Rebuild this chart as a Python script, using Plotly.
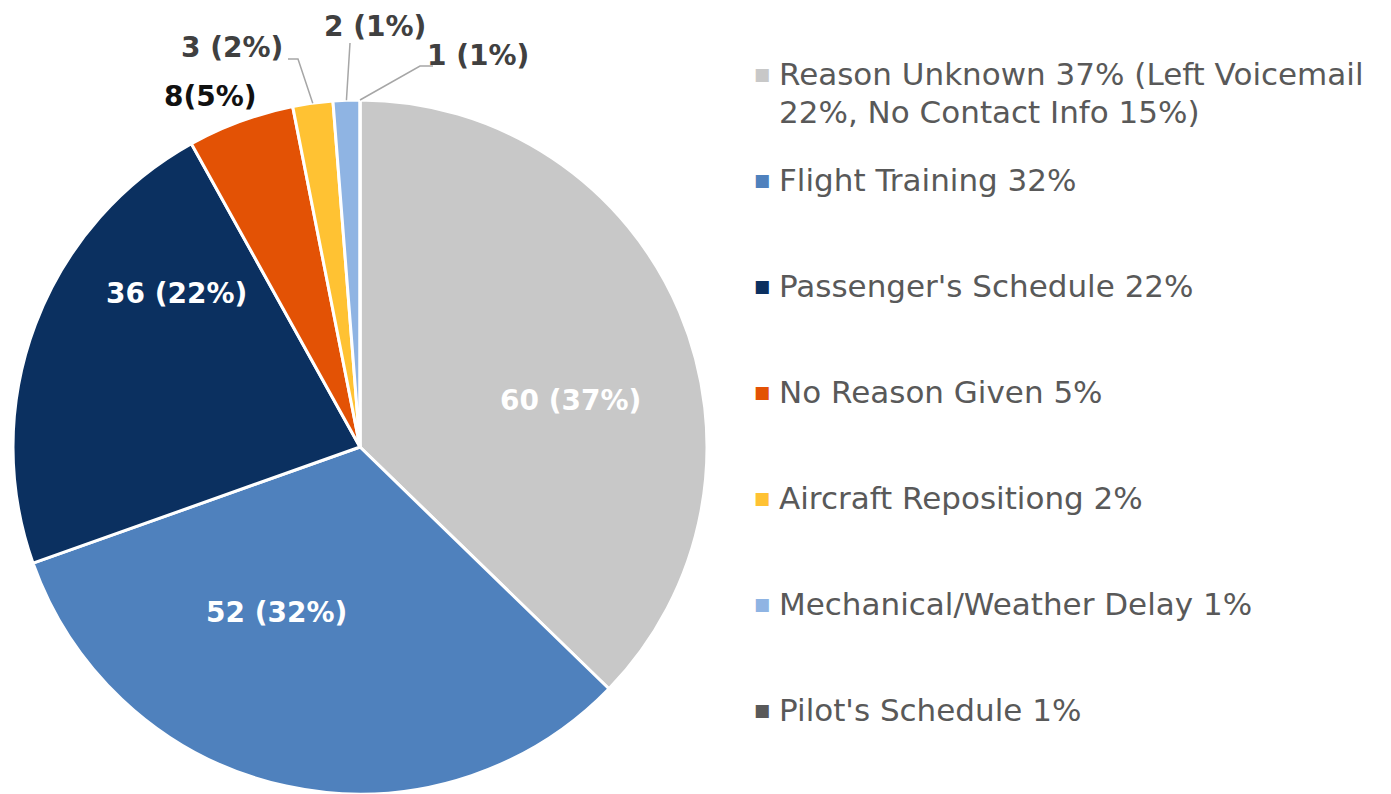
import math
import plotly.graph_objects as go

PAGE_W, PAGE_H = 1391, 794
OFF = 8  # default body margin of the html page
W, H = PAGE_W - OFF, PAGE_H - OFF

categories = [
    "Reason Unknown 37% (Left Voicemail<br>22%, No Contact Info 15%)",
    "Flight Training 32%",
    "Passenger's Schedule 22%",
    "No Reason Given 5%",
    "Aircraft Repositiong 2%",
    "Mechanical/Weather Delay 1%",
    "Pilot's Schedule 1%",
]
slice_values = [60, 52, 36, 8, 3, 2, 0]
label_text = ["60 (37%)", "52 (32%)", "36 (22%)", "8(5%)", "3 (2%)", "2 (1%)", "1 (1%)"]
colors = ["#C8C8C8", "#4F81BD", "#0B3060", "#E35205", "#FFC233", "#8FB4E3", "#595959"]

FONT = "DejaVu Sans"

# pie geometry (page pixels)
cx, cy, R = 360, 447, 347


def px(x, y):
    """page pixel -> paper coords"""
    return (x - OFF) / W, 1 - (y - OFF) / H


fig = go.Figure(go.Pie(
    labels=[c.replace("<br>", " ") for c in categories],
    values=slice_values,
    sort=False,
    direction="clockwise",
    rotation=0,
    marker=dict(colors=colors, line=dict(color="white", width=3)),
    textinfo="none",
    hoverinfo="label+value",
    domain=dict(x=[(cx - OFF - R) / W, (cx - OFF + R) / W],
                y=[0, (H - (cy - OFF - R)) / H]),
    showlegend=False,
))

total = sum(slice_values)


def edge_point(i):
    cum = sum(slice_values[:i]) + slice_values[i] / 2
    ang = cum / total * 2 * math.pi
    return cx + R * math.sin(ang), cy - R * math.cos(ang)


annotations = []
shapes = []

# label layout (page pixel centres) and colours
label_pos = [(570, 400), (276, 612), (176, 293), (210, 96), (232, 47), (375, 26), (478, 56)]
label_col = ["white", "white", "white", "#111111", "#404040", "#404040", "#404040"]
for t, (x, y), c in zip(label_text, label_pos, label_col):
    ax, ay = px(x, y)
    annotations.append(dict(
        x=ax, y=ay, xref="paper", yref="paper", text=f"<b>{t}</b>", showarrow=False,
        font=dict(family=FONT, size=28, color=c), xanchor="center", yanchor="middle",
        borderpad=0,
    ))

# leader lines for small slices
leader_start = {4: [(288, 59), (298, 59)], 5: [(350, 43)], 6: [(433, 66), (420, 66)]}
for i, pts in leader_start.items():
    ex, ey = edge_point(i)
    path_pts = pts + [(ex, ey)]
    p = []
    for k, (x, y) in enumerate(path_pts):
        X, Y = px(x, y)
        p.append(("M" if k == 0 else "L") + f" {X} {Y}")
    shapes.append(dict(type="path", xref="paper", yref="paper", path=" ".join(p),
                       line=dict(color="#A6A6A6", width=1.5)))

# legend
leg_y0, leg_dy, line_dy = 74, 106, 38
for i, (cat, col) in enumerate(zip(categories, colors)):
    yc = leg_y0 + i * leg_dy
    mx, my = px(762, yc)
    annotations.append(dict(
        x=mx, y=my, xref="paper", yref="paper", text="■", showarrow=False,
        font=dict(family="DejaVu Sans", size=17, color=col), xanchor="center", yanchor="middle",
    ))
    for j, line in enumerate(cat.split("<br>")):
        tx, ty = px(777, yc + j * line_dy)
        annotations.append(dict(
            x=tx, y=ty, xref="paper", yref="paper", text=line, showarrow=False, align="left",
            font=dict(family=FONT, size=31, color="#595959"), xanchor="left", yanchor="middle",
        ))

fig.update_layout(
    width=W, height=H,
    margin=dict(l=0, r=0, t=0, b=0),
    paper_bgcolor="white", plot_bgcolor="white",
    annotations=annotations, shapes=shapes,
)

fig.write_html("out.html")
